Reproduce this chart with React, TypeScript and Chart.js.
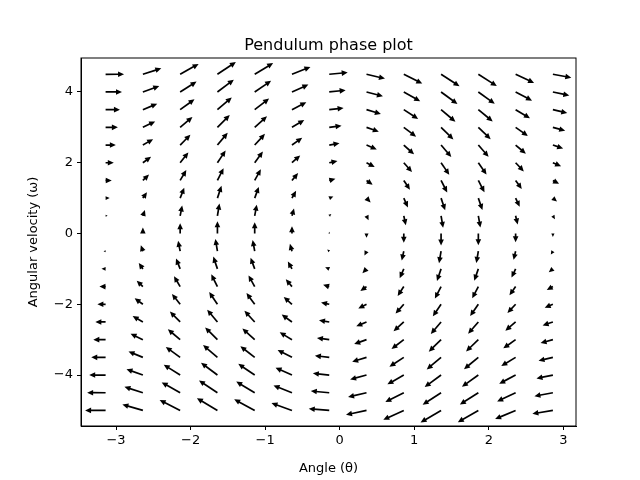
import React, { useEffect, useRef } from "react";
import { Chart, registerables } from "chart.js";
Chart.register(...registerables);

const angles = [-3.14, -2.64, -2.14, -1.64, -1.14, -0.64, -0.14, 0.36, 0.86, 1.36, 1.86, 2.36, 2.86];
const velocities = [-5, -4.5, -4, -3.5, -3, -2.5, -2, -1.5, -1, -0.5, 0, 0.5, 1, 1.5, 2, 2.5, 3, 3.5, 4, 4.5];
const gOverL = 3;
const xTicks = [-3, -2, -1, 0, 1, 2, 3];
const yTicks = [-4, -2, 0, 2, 4];

const points = angles.flatMap((a) => velocities.map((w) => ({ x: a, y: w, u: w, v: -gOverL * Math.sin(a) })));

const quiver = {
  id: "quiver",
  afterDatasetsDraw(chart: any) {
    const { ctx, scales } = chart;
    const s = 4.1;
    ctx.save();
    ctx.fillStyle = "#000";
    ctx.strokeStyle = "#000";
    for (const p of points) {
      const x0 = scales.x.getPixelForValue(p.x);
      const y0 = scales.y.getPixelForValue(p.y);
      const dx = p.u * s, dy = -p.v * s;
      const len = Math.hypot(dx, dy);
      if (len < 0.3) continue;
      const ux = dx / len, uy = dy / len;
      const hl = Math.min(6, len);
      const hw = Math.min(2.8, 2.8 * len / 6);
      const x1 = x0 + dx, y1 = y0 + dy;
      const bx = x1 - ux * hl, by = y1 - uy * hl;
      if (len > hl) {
        ctx.lineWidth = 1.7;
        ctx.beginPath();
        ctx.moveTo(x0, y0);
        ctx.lineTo(bx + ux * 1, by + uy * 1);
        ctx.stroke();
      }
      ctx.beginPath();
      ctx.moveTo(x1, y1);
      ctx.lineTo(bx - uy * hw, by + ux * hw);
      ctx.lineTo(bx + uy * hw, by - ux * hw);
      ctx.closePath();
      ctx.fill();
    }
    ctx.restore();
  },
};

const fmt = (v: any) => String(v).replace("-", "\u2212");

export default function App() {
  const ref = useRef<HTMLCanvasElement>(null);
  useEffect(() => {
    document.body.style.margin = "0";
    const font = { family: "DejaVu Sans", size: 13 };
    const chart = new Chart(ref.current!, {
      type: "scatter",
      data: { datasets: [{ data: points.map((p) => ({ x: p.x, y: p.y })), pointRadius: 0, pointHoverRadius: 0 }] },
      options: {
        animation: false,
        responsive: false,
        events: [],
        layout: { padding: { left: 0, right: 64, top: 58, bottom: 0 } },
        plugins: {
          legend: { display: false },
          tooltip: { enabled: false },
          title: { display: false },
        },
        scales: {
          x: {
            type: "linear",
            min: -3.47,
            max: 3.17,
            afterFit: (sc: any) => { sc.height = 54; },
            afterBuildTicks: (sc: any) => { sc.ticks = xTicks.map((v) => ({ value: v })); },
            ticks: { color: "#000", font, padding: 3, maxRotation: 0, callback: fmt },
            grid: { drawOnChartArea: false, color: "#000", tickLength: 4 },
            border: { color: "#000", width: 1 },
            title: { display: true, text: "Angle (θ)", color: "#000", font, padding: { top: 4 } },
          },
          y: {
            type: "linear",
            min: -5.44,
            max: 4.96,
            afterFit: (sc: any) => { sc.width = 81; },
            afterBuildTicks: (sc: any) => { sc.ticks = yTicks.map((v) => ({ value: v })); },
            ticks: { color: "#000", font, padding: 4, callback: fmt },
            grid: { drawOnChartArea: false, color: "#000", tickLength: 4 },
            border: { color: "#000", width: 1 },
            title: { display: true, text: "Angular velocity (ω)", color: "#000", font, padding: { top: 26, bottom: 0 } },
          },
        },
      },
      plugins: [quiver, {
        id: "frame",
        afterDraw(c: any) {
          const { ctx, chartArea: a } = c;
          ctx.save();
          ctx.strokeStyle = "#000";
          ctx.lineWidth = 1;
          ctx.strokeRect(a.left, a.top, a.right - a.left, a.bottom - a.top);
          ctx.fillStyle = "#000";
          ctx.font = "16px 'DejaVu Sans'";
          ctx.textAlign = "center";
          ctx.textBaseline = "alphabetic";
          ctx.fillText("Pendulum phase plot", (a.left + a.right) / 2, 50);
          ctx.restore();
        },
      }],
    } as any);
    return () => chart.destroy();
  }, []);
  return <canvas ref={ref} width={640} height={480} style={{ display: "block" }} />;
}
